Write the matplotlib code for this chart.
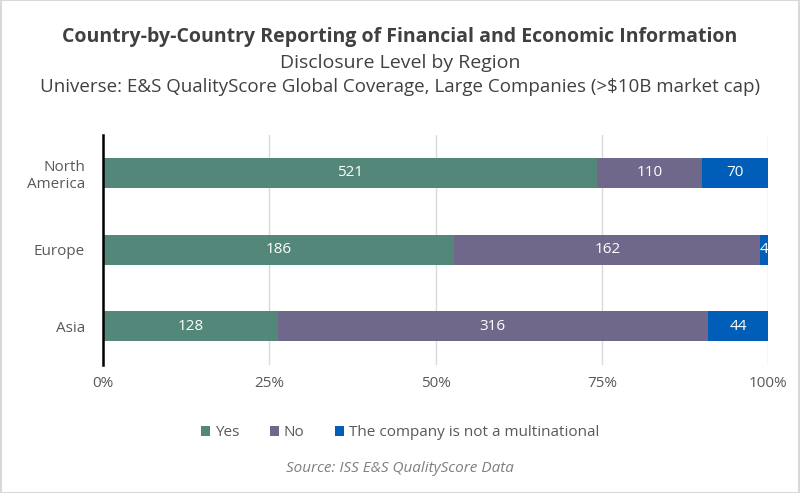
import matplotlib.pyplot as plt
import numpy as np

plt.rcParams['font.family'] = ['Open Sans', 'DejaVu Sans']

regions = ["North\nAmerica", "Europe", "Asia"]
yes = [521, 186, 128]
no = [110, 162, 316]
not_multi = [70, 4, 44]
series_names = ["Yes", "No", "The company is not a multinational"]
colors = ["#52877a", "#70688a", "#005eb8"]

counts = np.array([yes, no, not_multi], dtype=float)
shares = counts / counts.sum(axis=0)

fig = plt.figure(figsize=(8, 4.93), dpi=100)

ax = fig.add_axes([0.129, 0.26, 0.831, 0.467])

left = np.zeros(len(regions))
for i in range(3):
    bars = ax.barh(regions, shares[i], left=left, height=0.39, color=colors[i],
                   label=series_names[i], zorder=3)
    for j, b in enumerate(bars):
        cx = left[j] + shares[i][j] / 2
        ax.text(cx, j, f"{int(counts[i][j])}", ha="center", va="center",
                color="white", fontsize=11, zorder=4)
    left += shares[i]

ax.set_xlim(0, 1)
ax.set_ylim(2.5, -0.5)
ax.set_xticks([0, 0.25, 0.5, 0.75, 1.0])
ax.set_xticklabels(["0%", "25%", "50%", "75%", "100%"])
ax.xaxis.grid(True, color="#d9d9d9", linewidth=1, zorder=0)
ax.tick_params(axis="both", length=0, labelsize=11, colors="#595959", pad=8)
ax.tick_params(axis="y", pad=13)
for s in ["top", "right", "bottom"]:
    ax.spines[s].set_visible(False)
ax.spines["left"].set_color("black")
ax.spines["left"].set_linewidth(1.8)
ax.spines["left"].set_zorder(5)

fig.text(0.5, 0.924, "Country-by-Country Reporting of Financial and Economic Information",
         ha="center", va="center", fontsize=14, fontweight="bold", color="#404040")
fig.text(0.5, 0.872, "Disclosure Level by Region", ha="center", va="center",
         fontsize=14, color="#404040")
fig.text(0.5, 0.823, "Universe: E&S QualityScore Global Coverage, Large Companies (>$10B market cap)",
         ha="center", va="center", fontsize=13.5, color="#404040")

leg = fig.legend(loc="center", bbox_to_anchor=(0.5, 0.122), ncol=3, frameon=False,
                 fontsize=11, handlelength=0.6, handleheight=0.6, handletextpad=0.3,
                 columnspacing=2.0)
for t in leg.get_texts():
    t.set_color("#595959")

fig.text(0.5, 0.05, "Source: ISS E&S QualityScore Data", ha="center", va="center",
         fontsize=11, style="italic", color="#7f7f7f")

fig.patches.append(plt.Rectangle((0.001, 0.001), 0.998, 0.998, transform=fig.transFigure,
                                 fill=False, edgecolor="#d9d9d9", linewidth=1.5))

fig.savefig("out.png", dpi=100)
